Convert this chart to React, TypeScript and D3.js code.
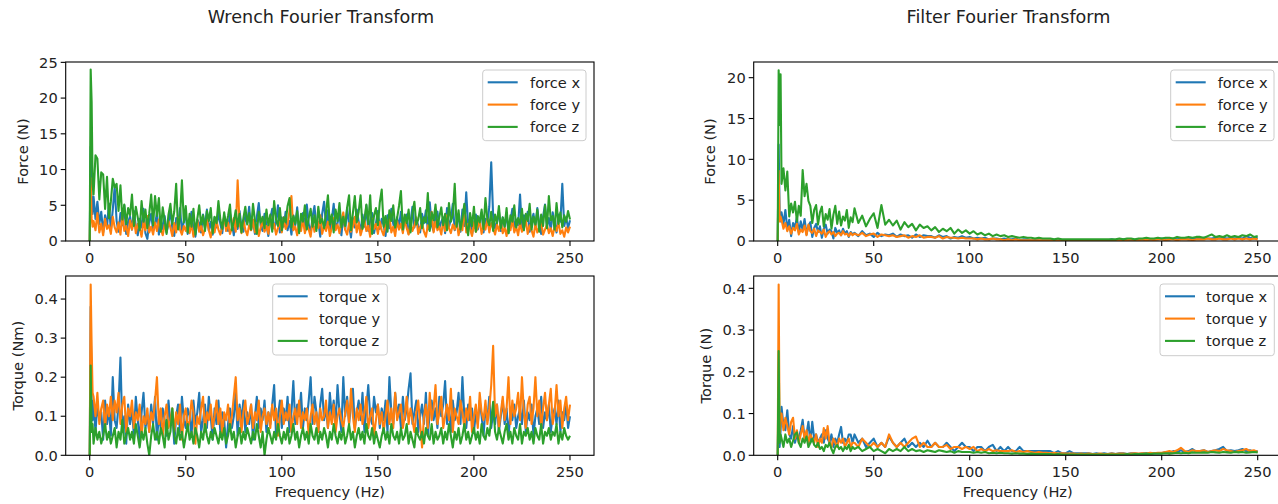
import React from 'react';
import * as d3 from 'd3';

// frequency bins (Hz)
const wrenchFreq = [0, 0.5, 1, 1.5, ...d3.range(2, 251)];
const filterFreq = [0, 0.5, 1, 1.5, ...d3.range(2, 40), ...d3.range(40, 251, 2)];

const freqTicks = [0, 50, 100, 150, 200, 250];
const forceTicksWrench = [0, 5, 10, 15, 20, 25];
const forceTicksFilter = [0, 5, 10, 15, 20];
const torqueTicks = [0, 0.1, 0.2, 0.3, 0.4];

// ---- Wrench Fourier Transform: force (N) ----
const wrenchForceX = [0, 13.2, 5.5, 3.8,
  6.2, 3.1, 5.5, 2.4, 4.1, 1.2, 3.6, 2.0, 5.2, 1.5,
  4.4, 7.6, 2.8, 1.3, 3.9, 2.2, 5.0, 1.0, 2.7, 3.4,
  1.6, 4.2, 2.0, 0.8, 3.1, 1.9, 4.5, 1.1, 0.3, 2.6,
  3.8, 1.4, 2.2, 4.0, 0.9, 2.9, 1.7, 3.5, 1.2, 2.4,
  4.3, 1.8, 0.7, 3.2, 2.1, 4.6, 1.3, 2.8, 3.6, 1.0,
  2.3, 4.1, 1.6, 0.6, 3.0, 2.5, 1.2, 3.7, 2.0, 4.4,
  1.5, 2.7, 0.9, 3.3, 1.9, 4.0, 2.4, 1.1, 3.5, 2.2,
  1.4, 3.9, 2.6, 0.8, 3.1, 1.7, 4.2, 2.0, 1.3, 3.6,
  2.5, 4.8, 1.6, 2.9, 1.0, 3.4, 5.3, 2.1, 1.4, 3.8,
  2.3, 0.7, 3.1, 4.5, 1.8, 2.6, 5.0, 1.2, 3.3, 2.0,
  4.1, 1.5, 2.8, 0.9, 3.6, 2.2, 4.7, 1.3, 2.9, 3.9,
  1.7, 5.1, 2.4, 1.0, 3.4, 4.9, 1.9, 2.7, 0.6, 3.8,
  5.5, 2.1, 4.3, 1.4, 3.0, 5.2, 1.8, 2.5, 4.0, 0.8,
  3.5, 1.6, 4.6, 2.3, 0.5, 3.2, 1.9, 4.4, 2.7, 1.2,
  3.7, 2.0, 5.0, 1.4, 2.8, 3.9, 1.1, 2.5, 4.2, 1.7,
  3.1, 2.2, 0.7, 3.6, 1.8, 4.5, 2.4, 1.3, 3.3, 2.0,
  4.1, 1.5, 2.9, 3.7, 1.0, 2.6, 4.8, 1.9, 3.2, 2.1,
  1.2, 3.8, 2.5, 4.3, 1.6, 5.4, 2.2, 1.4, 3.5, 4.1,
  1.8, 2.7, 3.3, 1.1, 4.6, 2.0, 3.0, 5.2, 1.5, 2.4,
  3.6, 1.3, 4.4, 2.1, 6.8, 1.9, 3.2, 0.9, 2.5, 3.7,
  1.6, 2.9, 4.0, 1.2, 3.1, 2.3, 4.8, 11.0, 3.5, 1.8,
  2.6, 4.2, 1.4, 3.3, 2.0, 3.9, 1.1, 2.8, 4.5, 1.7,
  3.0, 2.2, 6.5, 1.5, 3.6, 2.4, 4.1, 1.3, 2.9, 3.8,
  1.9, 4.6, 2.3, 1.0, 3.4, 5.1, 2.0, 3.2, 1.6, 4.0,
  2.5, 1.2, 3.7, 2.7, 8.0, 2.1, 3.3, 1.8, 2.9];

const wrenchForceY = [0, 8.8, 3.2, 2.0,
  2.8, 1.5, 3.9, 1.2, 2.4, 0.8, 3.1, 1.7, 2.2, 1.0,
  3.4, 1.9, 1.2, 2.6, 0.9, 3.8, 1.4, 2.1, 0.7, 2.9,
  1.6, 3.2, 1.1, 2.4, 1.8, 0.6, 2.7, 1.5, 3.5, 1.2,
  2.0, 0.9, 2.6, 1.4, 3.0, 1.7, 0.8, 2.3, 1.3, 2.8,
  1.9, 0.7, 2.5, 1.2, 3.3, 1.6, 0.9, 2.1, 1.4, 2.7,
  1.1, 2.4, 0.6, 1.8, 2.9, 1.3, 2.2, 0.8, 1.7, 3.1,
  1.5, 0.5, 2.3, 1.2, 2.8, 1.6, 0.9, 2.0, 3.4, 1.4,
  2.6, 1.0, 1.8, 3.2, 1.3, 8.5, 2.4, 1.1, 2.9, 1.6,
  0.8, 2.2, 1.5, 3.0, 1.2, 2.5, 0.7, 1.9, 2.8, 1.3,
  2.1, 1.0, 3.5, 1.6, 2.4, 0.9, 1.8, 2.7, 1.2, 3.3,
  1.7, 2.3, 4.2, 6.3, 1.5, 2.0, 0.8, 2.6, 1.4, 3.1,
  1.1, 2.2, 1.6, 0.6, 2.9, 1.3, 2.4, 1.8, 3.6, 1.0,
  2.1, 1.4, 2.7, 0.7, 1.9, 3.2, 1.5, 2.3, 1.1, 2.8,
  4.0, 1.6, 0.9, 2.5, 1.3, 2.0, 3.4, 1.2, 2.6, 0.8,
  1.8, 2.9, 1.4, 2.2, 0.6, 3.1, 1.7, 2.4, 1.0, 2.7,
  1.5, 0.8, 2.3, 1.9, 3.5, 1.2, 2.0, 0.7, 2.8, 1.6,
  2.4, 1.1, 3.0, 1.8, 0.9, 2.6, 1.4, 2.1, 3.3, 1.0,
  1.9, 2.5, 1.3, 0.6, 2.2, 1.7, 4.1, 1.2, 2.7, 1.5,
  2.0, 0.9, 2.9, 1.4, 3.6, 1.8, 1.1, 2.3, 1.6, 2.8,
  0.8, 2.1, 1.5, 4.8, 1.2, 2.4, 1.7, 0.7, 2.6, 1.3,
  1.9, 2.9, 1.0, 2.2, 1.6, 3.1, 1.2, 2.5, 1.8, 0.9,
  2.3, 1.4, 2.8, 1.1, 1.9, 0.7, 2.4, 1.5, 3.0, 1.2,
  2.0, 0.8, 2.6, 1.3, 1.8, 2.9, 1.0, 2.2, 1.5, 0.6,
  2.4, 1.2, 1.9, 2.7, 0.9, 1.6, 2.3, 1.1, 1.8, 0.7,
  2.1, 1.4, 2.6, 1.0, 1.5, 0.6, 1.9, 1.2, 2.0];

const wrenchForceZ = [0, 24.0, 19.5, 8.0,
  6.5, 12.0, 11.5, 5.8, 9.6, 9.3, 4.5, 9.0, 3.2, 5.5,
  8.7, 7.5, 8.0, 4.2, 7.8, 3.0, 5.1, 2.4, 4.6, 3.6,
  6.5, 2.1, 4.8, 3.3, 1.5, 5.6, 2.7, 4.4, 1.8, 3.9,
  6.5, 2.2, 6.3, 3.5, 6.0, 1.3, 4.7, 2.9, 1.0, 3.7,
  5.2, 2.4, 4.1, 8.0, 1.6, 3.3, 8.5, 2.6, 4.9, 1.2,
  3.8, 2.0, 4.5, 0.9, 3.1, 5.0, 2.3, 3.6, 1.4, 4.2,
  2.8, 4.6, 1.1, 3.4, 2.5, 5.6, 3.0, 1.7, 4.0, 2.1,
  3.5, 5.1, 1.5, 2.7, 4.3, 2.0, 3.8, 1.2, 3.2, 4.8,
  2.3, 3.9, 1.6, 5.2, 2.9, 1.0, 4.1, 2.6, 3.4, 1.8,
  4.4, 2.2, 3.7, 1.3, 5.6, 3.0, 2.1, 4.6, 1.5, 3.3,
  2.6, 4.9, 6.0, 1.9, 3.5, 2.4, 4.2, 1.1, 3.8, 2.7,
  5.0, 1.6, 3.2, 4.5, 2.0, 3.6, 1.4, 4.8, 2.5, 3.1,
  1.8, 4.0, 6.4, 2.3, 3.7, 1.2, 4.4, 2.8, 5.3, 1.9,
  3.4, 2.1, 4.7, 6.4, 1.5, 3.9, 6.3, 2.6, 4.1, 6.4,
  1.7, 3.0, 5.1, 2.4, 6.4, 1.0, 3.6, 4.6, 2.2, 5.4,
  7.2, 2.0, 3.5, 1.3, 4.3, 2.8, 5.0, 1.9, 3.2, 4.9,
  7.0, 1.6, 3.7, 2.5, 4.4, 1.2, 3.9, 5.5, 2.3, 3.0,
  4.6, 1.8, 3.3, 2.6, 6.7, 1.4, 4.0, 2.9, 5.1, 1.9,
  3.4, 4.7, 2.2, 3.8, 1.5, 5.3, 2.7, 3.6, 8.0, 2.0,
  4.3, 1.6, 3.1, 5.2, 2.4, 0.8, 3.9, 2.1, 4.8, 1.3,
  3.5, 2.6, 4.4, 1.7, 6.0, 3.0, 2.2, 4.1, 1.4, 3.7,
  2.5, 4.9, 1.8, 3.3, 2.0, 4.6, 1.1, 3.6, 2.7, 5.0,
  1.9, 3.2, 2.4, 4.5, 1.5, 3.8, 2.8, 5.2, 1.6, 3.4,
  2.3, 4.4, 1.3, 3.7, 2.1, 5.0, 1.8, 6.3, 2.9, 3.5,
  1.6, 5.3, 2.4, 4.0, 1.9, 3.6, 2.7, 4.2, 3.0];

// ---- Wrench Fourier Transform: torque (Nm) ----
const wrenchTorqueX = [0, .38, .12, .09,
  .14, .06, .13, .09, .11, .04, .14, .08, .12, .05,
  .20, .09, .07, .13, .25, .06, .10, .03, .13, .08,
  .12, .05, .15, .09, .04, .11, .16, .07, .10, .06,
  .13, .08, .15, .04, .10, .07, .12, .09, .05, .14,
  .08, .11, .03, .10, .13, .06, .15, .09, .07, .12,
  .10, .05, .14, .08, .11, .16, .06, .09, .13, .07,
  .15, .10, .04, .12, .08, .14, .06, .11, .09, .02,
  .08, .12, .07, .10, .16, .05, .13, .09, .14, .06,
  .11, .08, .13, .04, .10, .15, .07, .12, .09, .14,
  .06, .11, .08, .13, .18, .05, .10, .14, .07, .12,
  .09, .15, .06, .11, .19, .08, .13, .10, .16, .07,
  .12, .09, .14, .20, .08, .15, .11, .06, .13, .17,
  .09, .12, .07, .16, .10, .14, .08, .18, .11, .06,
  .20, .10, .15, .08, .13, .17, .07, .11, .14, .09,
  .16, .06, .12, .18, .10, .08, .15, .11, .13, .07,
  .12, .09, .14, .06, .20, .11, .08, .16, .10, .13,
  .07, .15, .09, .12, .17, .21, .08, .11, .14, .06,
  .10, .13, .08, .16, .05, .11, .14, .09, .12, .07,
  .15, .10, .13, .19, .08, .12, .06, .14, .09, .11,
  .16, .08, .20, .10, .07, .13, .09, .12, .06, .11,
  .08, .14, .10, .05, .12, .09, .15, .07, .11, .08,
  .13, .06, .10, .14, .08, .12, .05, .11, .09, .13,
  .07, .10, .12, .08, .14, .06, .11, .09, .13, .05,
  .10, .12, .08, .15, .07, .11, .09, .13, .06, .10,
  .12, .08, .14, .06, .11, .09, .13, .07, .10];

const wrenchTorqueY = [0, .437, .28, .16,
  .15, .10, .16, .08, .12, .14, .07, .13, .10, .15,
  .09, .14, .11, .16, .08, .13, .15, .06, .12, .10,
  .14, .07, .11, .09, .13, .05, .10, .08, .12, .06,
  .11, .09, .14, .20, .08, .12, .05, .10, .13, .07,
  .09, .12, .06, .11, .08, .13, .04, .10, .12, .07,
  .09, .14, .11, .03, .10, .08, .12, .15, .06, .11,
  .09, .13, .07, .10, .14, .08, .12, .05, .11, .09,
  .13, .07, .10, .15, .20, .09, .12, .06, .11, .14,
  .08, .10, .13, .07, .11, .09, .14, .06, .10, .12,
  .08, .11, .07, .13, .09, .12, .05, .10, .14, .08,
  .11, .09, .13, .06, .10, .12, .08, .14, .07, .11,
  .09, .12, .05, .10, .13, .08, .11, .06, .12, .09,
  .10, .14, .07, .11, .08, .13, .06, .10, .12, .09,
  .07, .11, .14, .08, .17, .10, .06, .12, .09, .13,
  .08, .11, .15, .07, .10, .12, .05, .09, .13, .08,
  .11, .06, .10, .14, .08, .12, .07, .16, .09, .11,
  .13, .07, .10, .15, .08, .12, .09, .06, .11, .14,
  .08, .02, .10, .13, .07, .16, .09, .12, .18, .08,
  .11, .15, .07, .10, .13, .09, .17, .06, .12, .10,
  .08, .14, .11, .07, .12, .09, .15, .06, .10, .13,
  .07, .16, .11, .09, .14, .08, .12, .18, .28, .10,
  .13, .07, .11, .15, .09, .12, .20, .08, .14, .10,
  .12, .16, .09, .20, .11, .07, .13, .15, .08, .12,
  .20, .10, .14, .07, .12, .16, .09, .13, .17, .08,
  .11, .18, .10, .14, .07, .12, .15, .09, .13];

const wrenchTorqueZ = [0, .23, .06, .08,
  .03, .07, .04, .06, .03, .05, .08, .04, .06, .03,
  .05, .07, .02, .06, .04, .09, .03, .05, .07, .04,
  .06, .03, .08, .05, .02, .06, .04, .07, .03, .00,
  .05, .08, .04, .06, .03, .07, .05, .02, .09, .04,
  .06, .12, .05, .03, .07, .04, .06, .02, .05, .08,
  .04, .06, .03, .07, .05, .02, .06, .04, .08, .05,
  .03, .06, .04, .07, .05, .03, .06, .04, .07, .03,
  .05, .08, .04, .06, .02, .05, .07, .03, .06, .04,
  .07, .05, .03, .06, .04, .08, .05, .02, .06, .00,
  .04, .07, .05, .03, .06, .04, .08, .05, .03, .06,
  .04, .07, .03, .05, .08, .04, .06, .02, .05, .07,
  .04, .06, .03, .08, .05, .04, .07, .03, .06, .04,
  .07, .05, .02, .06, .04, .08, .05, .03, .06, .04,
  .07, .03, .05, .08, .04, .06, .02, .05, .07, .04,
  .06, .03, .08, .05, .04, .07, .03, .06, .04, .02,
  .05, .07, .04, .06, .03, .08, .05, .04, .06, .03,
  .07, .04, .05, .08, .03, .06, .04, .02, .07, .05,
  .04, .06, .03, .07, .05, .04, .08, .03, .06, .04,
  .05, .07, .03, .06, .04, .08, .05, .02, .06, .04,
  .07, .03, .05, .08, .04, .06, .03, .05, .07, .04,
  .06, .03, .08, .05, .04, .07, .05, .09, .137, .06,
  .04, .07, .05, .03, .06, .08, .04, .06, .03, .07,
  .05, .04, .08, .03, .06, .05, .07, .04, .06, .03,
  .07, .05, .04, .08, .03, .06, .05, .07, .04, .06,
  .05, .08, .03, .06, .04, .07, .05, .04, .05];

// ---- Filter Fourier Transform: force (N) ----
const filterForceX = [0, 11.8, 3.6, 2.4,
  3.5, 2.1, 3.8, 1.4, 2.6, 0.6, 2.2, 1.7, 2.9, 1.0,
  2.4, 1.3, 2.7, 0.8, 1.9, 2.3, 0.5, 1.6, 2.1, 1.1,
  1.8, 0.4, 1.5, 2.0, 0.9, 1.4, 1.2, 0.3, 1.6, 1.0,
  1.3, 0.7, 1.5, 0.9, 1.2, 0.5, 1.1, 0.8,
  1.0, 0.6, 1.2, 0.7, 0.9, 0.5, 1.0, 0.6, 0.8, 0.7,
  0.9, 0.5, 0.8, 0.6, 0.7, 0.4, 0.8, 0.5, 0.7, 0.6,
  0.6, 0.4, 0.7, 0.5, 0.6, 0.3, 0.5, 0.4, 0.6, 0.4,
  0.5, 0.3, 0.4, 0.3, 0.4, 0.2, 0.3, 0.3, 0.2, 0.3,
  0.2, 0.2, 0.3, 0.1, 0.2, 0.2, 0.1, 0.2, 0.1, 0.1,
  0.1, 0.1, 0.1, 0.1, 0.1, 0.1, 0.1, 0.1, 0.1, 0.1,
  0.1, 0.1, 0.1, 0.1, 0.1, 0.1, 0.1, 0.2, 0.1, 0.1,
  0.2, 0.1, 0.2, 0.1, 0.2, 0.2, 0.1, 0.2, 0.2, 0.2,
  0.3, 0.2, 0.2, 0.3, 0.2, 0.3, 0.3, 0.2, 0.3, 0.3,
  0.3, 0.4, 0.3, 0.3, 0.4, 0.3, 0.4, 0.3, 0.4, 0.3,
  0.4, 0.3, 0.6, 0.4, 0.3, 0.4];

const filterForceY = [0, 8.6, 2.4, 3.0,
  2.6, 1.5, 2.2, 1.2, 1.8, 0.9, 1.6, 1.3, 2.1, 0.8,
  1.4, 1.1, 1.9, 0.7, 2.0, 1.2, 1.0, 1.5, 0.6, 1.3,
  1.1, 0.9, 1.4, 0.5, 1.0, 1.2, 0.8, 1.1, 0.6, 0.9,
  1.0, 0.7, 1.2, 0.8, 0.9, 0.6, 1.0, 0.7,
  0.9, 0.7, 1.0, 0.6, 0.8, 0.9, 0.5, 0.8, 0.7, 0.6,
  0.7, 0.5, 0.6, 0.7, 0.4, 0.6, 0.5, 0.7, 0.4, 0.5,
  0.5, 0.4, 0.6, 0.3, 0.5, 0.4, 0.4, 0.3, 0.4, 0.3,
  0.3, 0.3, 0.2, 0.3, 0.2, 0.2, 0.3, 0.2, 0.2, 0.1,
  0.2, 0.1, 0.2, 0.1, 0.1, 0.1, 0.1, 0.1, 0.1, 0.1,
  0.1, 0.1, 0.1, 0.05, 0.1, 0.05, 0.1, 0.05, 0.1, 0.05,
  0.05, 0.1, 0.05, 0.1, 0.05, 0.1, 0.1, 0.05, 0.1, 0.1,
  0.1, 0.1, 0.2, 0.1, 0.1, 0.2, 0.1, 0.2, 0.1, 0.2,
  0.2, 0.1, 0.2, 0.2, 0.1, 0.2, 0.2, 0.2, 0.1, 0.2,
  0.2, 0.2, 0.3, 0.2, 0.2, 0.3, 0.2, 0.2, 0.3, 0.2,
  0.3, 0.2, 0.3, 0.2, 0.3, 0.2];

const filterForceZ = [0, 20.9, 14.2, 20.4,
  7.0, 8.9, 6.2, 8.5, 3.0, 4.6, 3.5, 4.8, 2.4, 4.3,
  3.1, 8.7, 5.5, 7.0, 4.9, 4.3, 2.2, 3.8, 4.4, 2.0,
  3.5, 4.2, 1.8, 3.3, 2.6, 3.9, 1.5, 3.2, 4.3, 2.1,
  3.6, 1.9, 3.0, 2.5, 3.8, 1.6, 2.9, 2.3,
  4.0, 2.2, 3.1, 1.8, 2.7, 3.4, 1.6, 4.4, 2.0, 2.6,
  1.9, 2.5, 1.4, 2.3, 1.7, 2.1, 1.3, 2.0, 1.6, 1.8,
  1.3, 1.7, 1.1, 1.5, 1.2, 1.6, 0.9, 1.4, 1.0, 1.3,
  0.9, 1.2, 0.8, 1.0, 0.7, 0.9, 0.6, 0.8, 0.6, 0.7,
  0.5, 0.6, 0.5, 0.4, 0.5, 0.4, 0.4, 0.3, 0.4, 0.3,
  0.3, 0.3, 0.2, 0.3, 0.2, 0.2, 0.2, 0.2, 0.2, 0.2,
  0.2, 0.2, 0.2, 0.2, 0.2, 0.2, 0.2, 0.2, 0.2, 0.3,
  0.2, 0.3, 0.3, 0.2, 0.3, 0.3, 0.4, 0.3, 0.3, 0.4,
  0.3, 0.4, 0.4, 0.3, 0.5, 0.4, 0.4, 0.5, 0.4, 0.5,
  0.5, 0.4, 0.6, 0.8, 0.5, 0.6, 0.5, 0.7, 0.5, 0.6,
  0.5, 0.7, 0.6, 0.8, 0.5, 0.6];

// ---- Filter Fourier Transform: torque ----
const filterTorqueX = [0, .15, .02, .06,
  .116, .07, .06, .108, .05, .04, .07, .03, .05, .04,
  .06, .085, .04, .05, .08, .03, .08, .04, .05, .03,
  .04, .05, .03, .06, .04, .03, .05, .02, .04, .03,
  .05, .068, .03, .04, .03, .05, .05, .03,
  .05, .03, .04, .02, .03, .04, .02, .03, .02, .045,
  .03, .02, .03, .04, .02, .03, .02, .03, .02, .035,
  .02, .03, .02, .02, .03, .02, .01, .02, .03, .02,
  .02, .01, .02, .02, .01, .02, .025, .01, .02, .01,
  .02, .01, .01, .02, .01, .01, .01, .01, .01, .01,
  .01, .01, .005, .01, .005, .005, .01, .005, .005, .005,
  .005, .005, .003, .005, .003, .005, .003, .005, .003, .005,
  .005, .003, .005, .005, .003, .005, .005, .003, .005, .005,
  .005, .008, .005, .01, .008, .012, .008, .01, .015, .008,
  .01, .012, .008, .01, .012, .015, .02, .01, .012, .01,
  .012, .015, .01, .012, .008, .01];

const filterTorqueY = [0, .409, .05, .10,
  .10, .06, .09, .07, .05, .08, .09, .04, .06, .03,
  .05, .07, .04, .06, .03, .05, .04, .03, .05, .02,
  .04, .03, .065, .04, .07, .03, .02, .04, .03, .02,
  .04, .03, .04, .02, .03, .04, .02, .03,
  .03, .02, .04, .03, .02, .03, .02, .03, .02, .05,
  .03, .02, .03, .02, .03, .04, .045, .02, .03, .02,
  .02, .03, .02, .02, .025, .015, .02, .02, .015, .02,
  .015, .02, .01, .015, .01, .015, .01, .012, .01, .01,
  .01, .012, .008, .01, .008, .01, .008, .006, .008, .006,
  .006, .005, .006, .004, .005, .004, .004, .004, .003, .004,
  .003, .004, .003, .003, .004, .003, .003, .004, .003, .004,
  .004, .003, .004, .005, .004, .005, .004, .006, .005, .006,
  .006, .008, .01, .008, .012, .018, .01, .008, .012, .01,
  .01, .012, .008, .01, .012, .01, .015, .012, .01, .008,
  .01, .012, .015, .01, .012, .008];

const filterTorqueZ = [0, .25, .03, .05,
  .04, .02, .05, .03, .04, .02, .035, .05, .055, .03,
  .02, .04, .03, .045, .02, .03, .04, .025, .02, .03,
  .015, .02, .01, .025, .02, .03, .015, .005, .02, .025,
  .015, .02, .01, .02, .015, .025, .01, .02,
  .015, .02, .01, .015, .02, .01, .015, .01, .005, .015,
  .01, .015, .01, .02, .01, .015, .01, .012, .008, .012,
  .01, .008, .012, .01, .008, .01, .006, .01, .008, .008,
  .008, .006, .008, .006, .008, .005, .006, .005, .006, .005,
  .005, .004, .005, .004, .004, .003, .004, .003, .003, .003,
  .003, .003, .002, .003, .002, .002, .002, .002, .002, .002,
  .002, .002, .002, .002, .002, .002, .002, .002, .002, .002,
  .002, .003, .002, .003, .003, .003, .004, .003, .004, .004,
  .004, .005, .004, .005, .006, .005, .006, .005, .007, .006,
  .006, .007, .006, .008, .007, .006, .008, .007, .006, .008,
  .007, .008, .006, .007, .008, .007];

const BLUE = '#1f77b4';
const ORANGE = '#ff7f0e';
const GREEN = '#2ca02c';
const FONT = 'DejaVu Sans, sans-serif';
const FS = 14.6;

type Series = { name: string; color: string; values: number[] };

type PanelProps = {
  id: string;
  left: number;
  top: number;
  width: number;
  height: number;
  freq: number[];
  series: Series[];
  yMax: number;
  yTicks: number[];
  yFmt: (v: number) => string;
  yLabel: string;
  yLabelX: number;
  legend: { x: number; y: number; w: number; h: number; textX: number };
  xLabel?: string;
};

const Panel = ({ id, left, top, width, height, freq, series, yMax, yTicks, yFmt, yLabel, yLabelX, legend, xLabel }: PanelProps) => {
  const x = d3.scaleLinear().domain([-12.5, 262.5]).range([left, left + width]);
  const y = d3.scaleLinear().domain([0, yMax]).range([top + height, top]);
  const line = d3.line<[number, number]>().x(d => x(d[0])).y(d => y(d[1]));
  const bottom = top + height;

  return (
    <g>
      <clipPath id={id}>
        <rect x={left} y={top} width={width} height={height} />
      </clipPath>
      <g clipPath={`url(#${id})`}>
        {series.map(s => {
          const pts = s.values
            .map((v, i) => [freq[i], v] as [number, number])
            .filter(p => p[0] !== undefined);
          return <path key={s.name} d={line(pts) || ''} fill="none" stroke={s.color}
            strokeWidth={2.1} strokeLinejoin="round" />;
        })}
      </g>
      <rect x={left} y={top} width={width} height={height} fill="none" stroke="#000" strokeWidth={1.1} />
      {freqTicks.map(t => (
        <g key={`x${t}`}>
          <line x1={x(t)} x2={x(t)} y1={bottom} y2={bottom + 5} stroke="#000" strokeWidth={1.1} />
          <text x={x(t)} y={bottom + 21.5} textAnchor="middle" fontSize={FS} fontFamily={FONT} fill="#222">{t}</text>
        </g>
      ))}
      {yTicks.map(t => (
        <g key={`y${t}`}>
          <line x1={left - 5} x2={left} y1={y(t)} y2={y(t)} stroke="#000" strokeWidth={1.1} />
          <text x={left - 8} y={y(t)} dy="0.36em" textAnchor="end" fontSize={FS} fontFamily={FONT} fill="#222">{yFmt(t)}</text>
        </g>
      ))}
      <text transform={`translate(${yLabelX},${top + height / 2}) rotate(-90)`} textAnchor="middle"
        dominantBaseline="central" fontSize={FS} fontFamily={FONT} fill="#222">{yLabel}</text>
      {xLabel && (
        <text x={left + width / 2} y={497} textAnchor="middle" fontSize={FS} fontFamily={FONT} fill="#222">{xLabel}</text>
      )}
      <rect x={legend.x} y={legend.y} width={legend.w} height={legend.h} rx={3} fill="#fff" fillOpacity={0.8}
        stroke="#cccccc" strokeWidth={1} />
      {series.map((s, i) => {
        const cy = legend.y + 12.3 + i * 22.3;
        return (
          <g key={`l${s.name}`}>
            <line x1={legend.x + 5} x2={legend.x + 35} y1={cy} y2={cy} stroke={s.color} strokeWidth={2.1} />
            <text x={legend.textX} y={cy} dy="0.36em" fontSize={FS} fontFamily={FONT} fill="#222">{s.name}</text>
          </g>
        );
      })}
    </g>
  );
};

const fmtInt = (v: number) => d3.format('d')(v);
const fmt1 = (v: number) => d3.format('.1f')(v);

export default function App() {
  return (
    <svg width={1278} height={504} style={{ position: 'absolute', left: 0, top: 0, background: '#fff' }}>
      <text x={321} y={23} textAnchor="middle" fontSize={17.6} fontFamily={FONT} fill="#222">Wrench Fourier Transform</text>
      <text x={1008.5} y={23} textAnchor="middle" fontSize={17.6} fontFamily={FONT} fill="#222">Filter Fourier Transform</text>

      <Panel id="c1" left={65.7} top={62} width={528.3} height={179} freq={wrenchFreq}
        series={[
          { name: 'force x', color: BLUE, values: wrenchForceX },
          { name: 'force y', color: ORANGE, values: wrenchForceY },
          { name: 'force z', color: GREEN, values: wrenchForceZ },
        ]}
        yMax={25.05} yTicks={forceTicksWrench} yFmt={fmtInt} yLabel="Force (N)" yLabelX={22}
        legend={{ x: 482.7, y: 70, w: 103.3, h: 70.7, textX: 530 }} />

      <Panel id="c2" left={65.7} top={276} width={528.3} height={179.3} freq={wrenchFreq}
        series={[
          { name: 'torque x', color: BLUE, values: wrenchTorqueX },
          { name: 'torque y', color: ORANGE, values: wrenchTorqueY },
          { name: 'torque z', color: GREEN, values: wrenchTorqueZ },
        ]}
        yMax={0.459} yTicks={torqueTicks} yFmt={fmt1} yLabel="Torque (Nm)" yLabelX={17}
        legend={{ x: 272.7, y: 284, w: 114.6, h: 71, textX: 319 }} xLabel="Frequency (Hz)" />

      <Panel id="c3" left={753.7} top={62} width={528} height={179} freq={filterFreq}
        series={[
          { name: 'force x', color: BLUE, values: filterForceX },
          { name: 'force y', color: ORANGE, values: filterForceY },
          { name: 'force z', color: GREEN, values: filterForceZ },
        ]}
        yMax={21.92} yTicks={forceTicksFilter} yFmt={fmtInt} yLabel="Force (N)" yLabelX={709}
        legend={{ x: 1170.7, y: 70, w: 103.3, h: 70.7, textX: 1217.7 }} />

      <Panel id="c4" left={753.7} top={276} width={528} height={179.3} freq={filterFreq}
        series={[
          { name: 'torque x', color: BLUE, values: filterTorqueX },
          { name: 'torque y', color: ORANGE, values: filterTorqueY },
          { name: 'torque z', color: GREEN, values: filterTorqueZ },
        ]}
        yMax={0.4295} yTicks={torqueTicks} yFmt={fmt1} yLabel="Torque (N)" yLabelX={705}
        legend={{ x: 1160, y: 284, w: 114.3, h: 71.7, textX: 1206 }} xLabel="Frequency (Hz)" />
    </svg>
  );
}
